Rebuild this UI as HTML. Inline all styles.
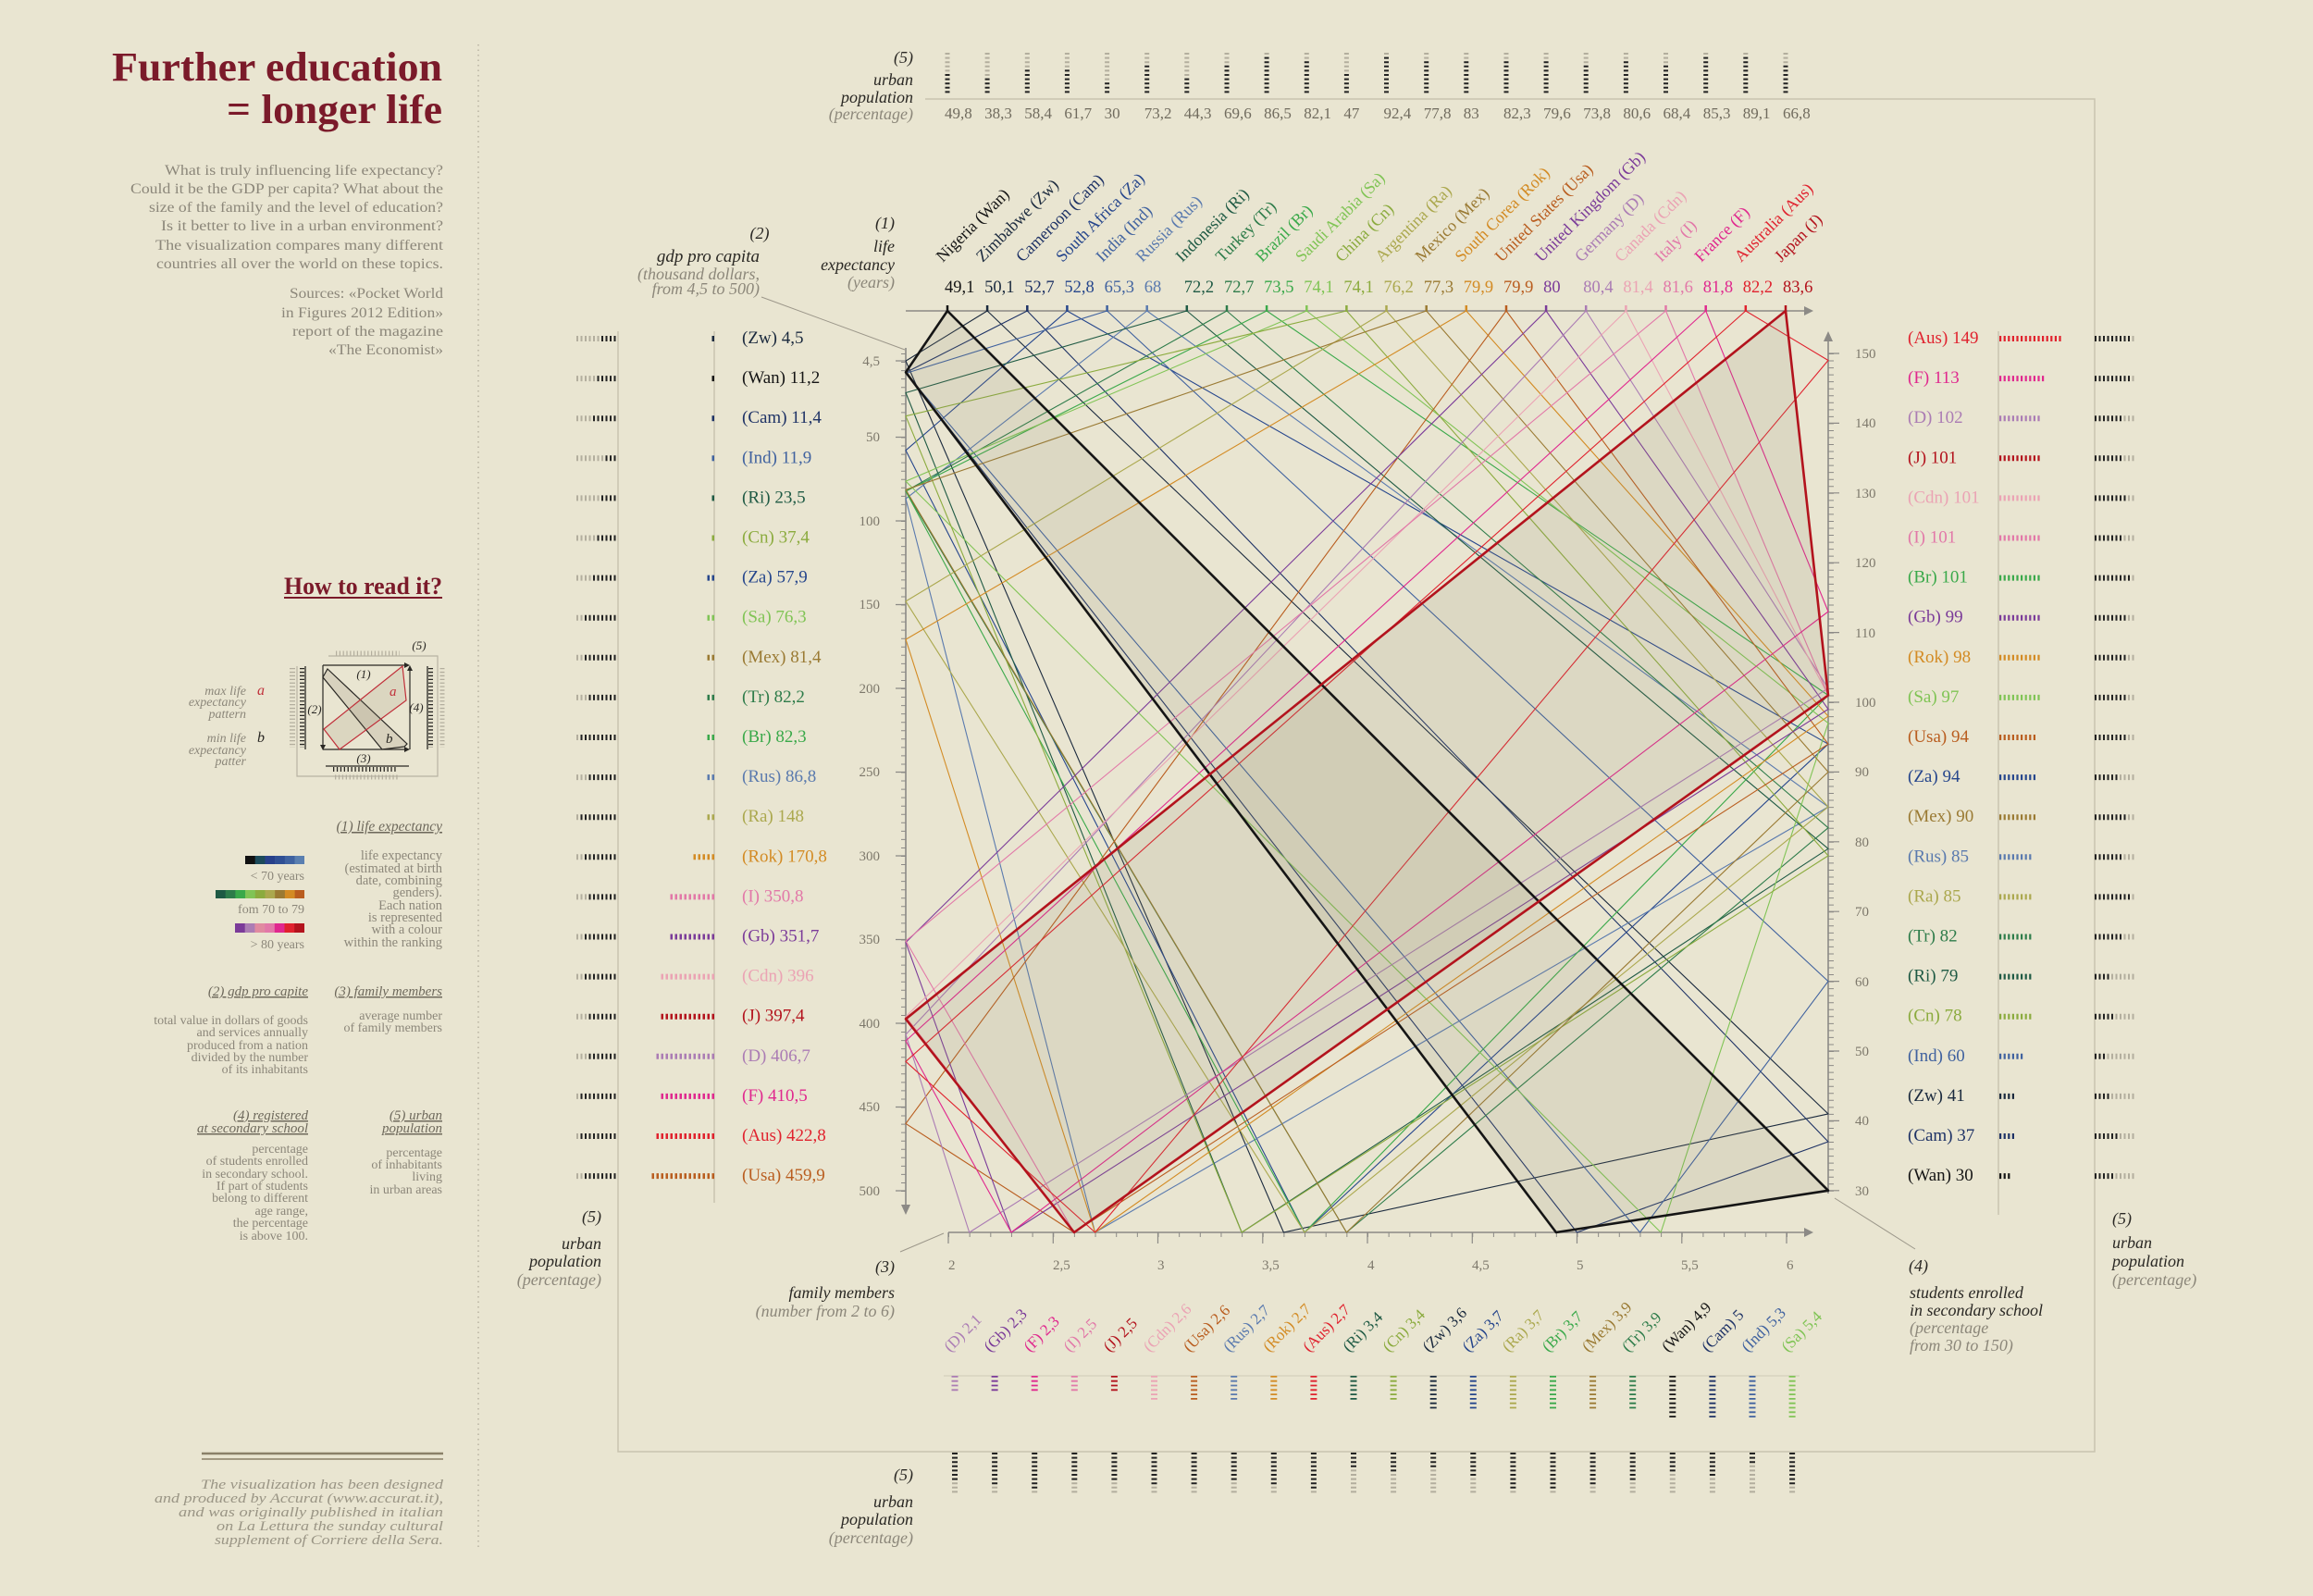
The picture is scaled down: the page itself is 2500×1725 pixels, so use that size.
<!DOCTYPE html>
<html><head><meta charset="utf-8"><style>
html,body{margin:0;padding:0;background:#e9e5d1;}
svg{display:block;}
text{font-family:"Liberation Serif",serif;}
.it{font-style:italic;}
.g{fill:#8c877a;}
.d{fill:#2a2824;}
.ax{fill:#7d786b;font-size:15px;}
.ul{text-decoration:underline;}
</style></head><body>
<svg width="2500" height="1725" viewBox="0 0 2500 1725" xmlns="http://www.w3.org/2000/svg">
<rect x="0" y="0" width="2500" height="1725" fill="#e9e5d1"/>

<!-- ============ LEFT PANEL ============ -->
<line x1="517" y1="48" x2="517" y2="1674" stroke="#b9b4a2" stroke-width="1.5" stroke-dasharray="1.5 4"/>
<text x="121" y="87" font-size="44" font-weight="bold" fill="#7b1a2a" textLength="357" lengthAdjust="spacingAndGlyphs">Further education</text>
<text x="245" y="133" font-size="44" font-weight="bold" fill="#7b1a2a" textLength="233" lengthAdjust="spacingAndGlyphs">= longer life</text>

<g class="g" font-size="16">
<text x="178" y="189" textLength="301" lengthAdjust="spacingAndGlyphs">What is truly influencing life expectancy?</text>
<text x="141" y="209" textLength="338" lengthAdjust="spacingAndGlyphs">Could it be the GDP per capita? What about the</text>
<text x="161" y="229" textLength="318" lengthAdjust="spacingAndGlyphs">size of the family and the level of education?</text>
<text x="174" y="249" textLength="305" lengthAdjust="spacingAndGlyphs">Is it better to live in a urban environment?</text>
<text x="168" y="270" textLength="311" lengthAdjust="spacingAndGlyphs">The visualization compares many different</text>
<text x="169" y="290" textLength="310" lengthAdjust="spacingAndGlyphs">countries all over the world on these topics.</text>
<text x="313" y="322" textLength="166" lengthAdjust="spacingAndGlyphs">Sources: «Pocket World</text>
<text x="304" y="343" textLength="175" lengthAdjust="spacingAndGlyphs">in Figures 2012 Edition»</text>
<text x="316" y="363" textLength="163" lengthAdjust="spacingAndGlyphs">report of the magazine</text>
<text x="355" y="383" textLength="124" lengthAdjust="spacingAndGlyphs">«The Economist»</text>
</g>

<text x="307" y="642" font-size="26" font-weight="bold" fill="#7b1a2a" textLength="171" lengthAdjust="spacingAndGlyphs">How to read it?</text>
<line x1="307" y1="646" x2="478" y2="646" stroke="#7b1a2a" stroke-width="2"/>

<!-- legend diagram -->
<g class="it g" font-size="14" text-anchor="end">
<text x="266" y="751">max life</text>
<text x="266" y="763">expectancy</text>
<text x="266" y="776">pattern</text>
<text x="266" y="802">min life</text>
<text x="266" y="815">expectancy</text>
<text x="266" y="827">patter</text>
</g>
<text x="278" y="751" class="it" font-size="16" fill="#c0303a">a</text>
<text x="278" y="802" class="it" font-size="16" fill="#2a2824">b</text>
<path d="M355,709 H473 V839 H321 V720" fill="none" stroke="#b8b3a3" stroke-width="1.2"/>
<line x1="363" y1="706" x2="432" y2="706" stroke="#b3ae9e" stroke-width="5" stroke-dasharray="1.2 2.6"/>
<line x1="330" y1="720" x2="330" y2="810" stroke="#2a2824" stroke-width="1.3"/>
<line x1="326.5" y1="722" x2="326.5" y2="808" stroke="#2a2824" stroke-width="5" stroke-dasharray="1.3 2.6"/>
<line x1="316" y1="722" x2="316" y2="808" stroke="#b3ae9e" stroke-width="6" stroke-dasharray="1.3 2.6"/>
<line x1="462" y1="720" x2="462" y2="810" stroke="#2a2824" stroke-width="1.3"/>
<line x1="465.5" y1="722" x2="465.5" y2="808" stroke="#2a2824" stroke-width="5" stroke-dasharray="1.3 2.6"/>
<line x1="478" y1="722" x2="478" y2="808" stroke="#b3ae9e" stroke-width="5" stroke-dasharray="1.3 2.6"/>
<line x1="352" y1="828" x2="442" y2="828" stroke="#2a2824" stroke-width="1.3"/>
<line x1="360" y1="831.5" x2="430" y2="831.5" stroke="#2a2824" stroke-width="5" stroke-dasharray="1.3 2.6"/>
<line x1="362" y1="840" x2="432" y2="840" stroke="#b3ae9e" stroke-width="5" stroke-dasharray="1.3 2.6"/>
<g stroke="#2a2824" stroke-width="1.2" fill="none">
<path d="M349,719 H438"/><path d="M349,719 V806"/><path d="M349,810 H438"/><path d="M443,810 V724"/>
</g>
<g fill="#2a2824">
<polygon points="437,716 443,719 437,722"/><polygon points="346,805 349,811 352,805"/>
<polygon points="437,807 443,810 437,813"/><polygon points="440,725 443,719 446,725"/>
</g>
<polygon points="354,723 440,804 437,807 413,810 349,732" fill="#8a8068" fill-opacity="0.18" stroke="#2a2824" stroke-width="1.2"/>
<polygon points="350,788 435,720 439,757 367,810" fill="#8a8068" fill-opacity="0.15" stroke="#c0303a" stroke-width="1.2"/>
<text x="421" y="752" class="it" font-size="15" fill="#c0303a">a</text>
<text x="417" y="803" class="it" font-size="15" fill="#2a2824">b</text>
<g class="it d" font-size="13" text-anchor="middle">
<text x="393" y="733">(1)</text><text x="340" y="771">(2)</text><text x="393" y="824">(3)</text><text x="450" y="769">(4)</text><text x="453" y="702">(5)</text>
</g>

<text x="478" y="898" text-anchor="end" class="it ul" font-size="15.5" fill="#6e695c">(1) life expectancy</text>
<g>
<rect x="265" y="925" width="11" height="9" fill="#111111"/><rect x="275.7" y="925" width="11" height="9" fill="#1c4a5a"/><rect x="286.4" y="925" width="11" height="9" fill="#27408a"/><rect x="297.1" y="925" width="11" height="9" fill="#2f4f94"/><rect x="307.8" y="925" width="11" height="9" fill="#3f62a0"/><rect x="318.5" y="925" width="10.5" height="9" fill="#5a7fb0"/>
<rect x="233" y="962" width="11" height="9" fill="#1f5a44"/><rect x="243.7" y="962" width="11" height="9" fill="#2e7c4a"/><rect x="254.4" y="962" width="11" height="9" fill="#3aa94a"/><rect x="265.1" y="962" width="11" height="9" fill="#80c455"/><rect x="275.8" y="962" width="11" height="9" fill="#8bab3e"/><rect x="286.5" y="962" width="11" height="9" fill="#aba84e"/><rect x="297.2" y="962" width="11" height="9" fill="#9a7a33"/><rect x="307.9" y="962" width="11" height="9" fill="#d38b24"/><rect x="318.6" y="962" width="10.4" height="9" fill="#b95d1f"/>
<rect x="254" y="998" width="11" height="10" fill="#7b3b99"/><rect x="264.7" y="998" width="11" height="10" fill="#ab7cb4"/><rect x="275.4" y="998" width="11" height="10" fill="#e08aa0"/><rect x="286.1" y="998" width="11" height="10" fill="#e278a8"/><rect x="296.8" y="998" width="11" height="10" fill="#e0288e"/><rect x="307.5" y="998" width="11" height="10" fill="#e0222e"/><rect x="318.2" y="998" width="10.8" height="10" fill="#b3131d"/>
</g>
<g class="g" font-size="14" text-anchor="end">
<text x="329" y="951">&lt; 70 years</text>
<text x="329" y="987">fom 70 to 79</text>
<text x="329" y="1025">&gt; 80 years</text>
</g>
<g class="g" font-size="14.5" text-anchor="end">
<text x="478" y="929">life expectancy</text>
<text x="478" y="943">(estimated at birth</text>
<text x="478" y="956">date, combining</text>
<text x="478" y="969">genders).</text>
<text x="478" y="983">Each nation</text>
<text x="478" y="996">is represented</text>
<text x="478" y="1009">with a colour</text>
<text x="478" y="1023">within the ranking</text>
</g>

<g class="it ul" font-size="15" fill="#6e695c" text-anchor="end">
<text x="333" y="1076">(2) gdp pro capite</text>
<text x="478" y="1076">(3) family members</text>
<text x="333" y="1210">(4) registered</text>
<text x="333" y="1224">at secondary school</text>
<text x="478" y="1210">(5) urban</text>
<text x="478" y="1224">population</text>
</g>
<g class="g" font-size="14" text-anchor="end">
<text x="333" y="1107">total value in dollars of goods</text>
<text x="333" y="1120">and services annually</text>
<text x="333" y="1134">produced from a nation</text>
<text x="333" y="1147">divided by the number</text>
<text x="333" y="1160">of its inhabitants</text>
<text x="478" y="1102">average number</text>
<text x="478" y="1115">of family members</text>
<text x="333" y="1246">percentage</text>
<text x="333" y="1259">of students enrolled</text>
<text x="333" y="1273">in secondary school.</text>
<text x="333" y="1286">If part of students</text>
<text x="333" y="1299">belong to different</text>
<text x="333" y="1313">age range,</text>
<text x="333" y="1326">the percentage</text>
<text x="333" y="1340">is above 100.</text>
<text x="478" y="1250">percentage</text>
<text x="478" y="1263">of inhabitants</text>
<text x="478" y="1276">living</text>
<text x="478" y="1290">in urban areas</text>
</g>
<line x1="218" y1="1571" x2="479" y2="1571" stroke="#8a8068" stroke-width="2.5"/>
<line x1="218" y1="1577" x2="479" y2="1577" stroke="#8a8068" stroke-width="1.5"/>
<g class="it" font-size="14.5" fill="#9a9585">
<text x="217" y="1609" textLength="262" lengthAdjust="spacingAndGlyphs">The visualization has been designed</text>
<text x="167" y="1624" textLength="312" lengthAdjust="spacingAndGlyphs">and produced by Accurat (www.accurat.it),</text>
<text x="193" y="1639" textLength="286" lengthAdjust="spacingAndGlyphs">and was originally published in italian</text>
<text x="234" y="1654" textLength="245" lengthAdjust="spacingAndGlyphs">on La Lettura the sunday cultural</text>
<text x="232" y="1669" textLength="247" lengthAdjust="spacingAndGlyphs">supplement of Corriere della Sera.</text>
</g>

<!-- ============ FRAME ============ -->
<g stroke="#c9c4b0" stroke-width="1.5" fill="none">
<path d="M1000,107 H2264 V1569 H668 V358"/>
<path d="M772,358 V1300"/>
<path d="M2160,358 V1313"/>
</g>
<line x1="1020" y1="1487" x2="1945" y2="1487" stroke="#d0cbb8" stroke-width="1"/>
<g stroke="#9c978a" stroke-width="1" fill="none">
<path d="M823,321 L978,378"/><path d="M973,1353 L1020,1333"/><path d="M1983,1295 L2070,1350"/>
</g>

<!-- ============ HEADERS ============ -->
<g class="it d" font-size="18" text-anchor="end">
<text x="987" y="68">(5)</text><text x="987" y="92">urban</text><text x="987" y="111">population</text>
<text x="821" y="258" text-anchor="middle" x2="0">(2)</text>
<text x="821" y="283" font-size="19">gdp pro capita</text>
<text x="967" y="247">(1)</text><text x="967" y="272">life</text><text x="967" y="292">expectancy</text>
<text x="650" y="1321">(5)</text><text x="650" y="1350">urban</text><text x="650" y="1369">population</text>
<text x="967" y="1375">(3)</text><text x="967" y="1403">family members</text>
<text x="987" y="1600">(5)</text><text x="987" y="1629">urban</text><text x="987" y="1648">population</text>
</g>
<g class="it g" font-size="18" text-anchor="end">
<text x="987" y="129">(percentage)</text>
<text x="821" y="302">(thousand dollars,</text>
<text x="821" y="318">from 4,5  to 500)</text>
<text x="967" y="311">(years)</text>
<text x="650" y="1389">(percentage)</text>
<text x="967" y="1423">(number from 2 to 6)</text>
<text x="987" y="1668">(percentage)</text>
</g>
<g class="it d" font-size="18">
<text x="2063" y="1374">(4)</text><text x="2064" y="1403">students enrolled</text><text x="2064" y="1422">in secondary school</text>
<text x="2283" y="1323">(5)</text><text x="2283" y="1349">urban</text><text x="2283" y="1369">population</text>
</g>
<g class="it g" font-size="18">
<text x="2064" y="1441">(percentage</text><text x="2064" y="1460">from 30 to 150)</text>
<text x="2283" y="1389">(percentage)</text>
</g>

<!-- ============ AXES ============ -->
<g stroke="#8c8a86" fill="none">
<line x1="979" y1="336" x2="1952" y2="336" stroke-width="1.6"/>
<line x1="979" y1="376" x2="979" y2="1305" stroke-width="1.6"/>
<line x1="1976" y1="366" x2="1976" y2="1290" stroke-width="1.6"/>
<line x1="1025" y1="1332" x2="1952" y2="1332" stroke-width="1.6"/>
<line x1="976.5" y1="382" x2="976.5" y2="1292" stroke-width="5" stroke-dasharray="1 8.05"/>
<line x1="1979" y1="382" x2="1979" y2="1288" stroke-width="6" stroke-dasharray="1 6.54"/>
<line x1="1025" y1="1334.5" x2="1950" y2="1334.5" stroke-width="5" stroke-dasharray="1 21.65"/>
<path stroke-width="1.2" d="M968,390H979 M968,472.5H979 M968,563H979 M968,653.5H979 M968,744H979 M968,834.5H979 M968,925H979 M968,1015.5H979 M968,1106H979 M968,1196.5H979 M968,1287H979"/>
<path stroke-width="1.2" d="M1976,382H1988 M1976,457.4H1988 M1976,532.8H1988 M1976,608.2H1988 M1976,683.6H1988 M1976,759H1988 M1976,834.4H1988 M1976,909.8H1988 M1976,985.2H1988 M1976,1060.6H1988 M1976,1136H1988 M1976,1211.4H1988 M1976,1286.8H1988"/>
<path stroke-width="1.2" d="M1025,1332V1344 M1138.3,1332V1344 M1251.5,1332V1344 M1364.8,1332V1344 M1478,1332V1344 M1591.3,1332V1344 M1704.5,1332V1344 M1817.8,1332V1344 M1931,1332V1344"/>
</g>
<g fill="#8c8a86">
<polygon points="1950,331 1960,336 1950,341"/>
<polygon points="974,1302 984,1302 979,1313"/>
<polygon points="1971,369 1981,369 1976,358"/>
<polygon points="1950,1327 1960,1332 1950,1337"/>
</g>
<g class="ax" text-anchor="end">
<text x="951" y="395">4,5</text><text x="951" y="477">50</text><text x="951" y="568">100</text><text x="951" y="658">150</text><text x="951" y="749">200</text><text x="951" y="839">250</text><text x="951" y="930">300</text><text x="951" y="1020">350</text><text x="951" y="1111">400</text><text x="951" y="1201">450</text><text x="951" y="1292">500</text>
</g>
<g class="ax">
<text x="2005" y="387">150</text><text x="2005" y="462">140</text><text x="2005" y="538">130</text><text x="2005" y="613">120</text><text x="2005" y="689">110</text><text x="2005" y="764">100</text><text x="2005" y="839">90</text><text x="2005" y="915">80</text><text x="2005" y="990">70</text><text x="2005" y="1066">60</text><text x="2005" y="1141">50</text><text x="2005" y="1216">40</text><text x="2005" y="1292">30</text>
<text x="1025" y="1372">2</text><text x="1138" y="1372">2,5</text><text x="1251" y="1372">3</text><text x="1364" y="1372">3,5</text><text x="1478" y="1372">4</text><text x="1591" y="1372">4,5</text><text x="1704" y="1372">5</text><text x="1817" y="1372">5,5</text><text x="1931" y="1372">6</text>
</g>

<!-- ============ CHART LINES ============ -->
<g fill="none" stroke-width="1.1" stroke-linejoin="round">
<polygon stroke="#1b2a3e" points="1067.1,336 979,390.1 1387.4,1332 1976,1203.9"/>
<polygon stroke="#1f3366" points="1110.3,336 979,402.6 1704.5,1332 1976,1234"/>
<polygon stroke="#26468c" points="1153.4,336 979,486.8 1410,1332 1976,804.2"/>
<polygon stroke="#40629f" points="1196.6,336 979,403.5 1772.5,1332 1976,1060.6"/>
<polygon stroke="#5a7aae" points="1239.7,336 979,539.1 1183.6,1332 1976,872.1"/>
<polygon stroke="#1f5a44" points="1282.8,336 979,424.5 1342.1,1332 1976,917.3"/>
<polygon stroke="#2e7c4a" points="1326,336 979,530.8 1455.4,1332 1976,894.7"/>
<polygon stroke="#3aa94a" points="1369.1,336 979,531 1410,1332 1976,751.5"/>
<polygon stroke="#80c455" points="1412.3,336 979,520.1 1795.1,1332 1976,781.6"/>
<polygon stroke="#8bab3e" points="1455.4,336 979,449.7 1342.1,1332 1976,924.9"/>
<polygon stroke="#aba84e" points="1498.5,336 979,649.9 1410,1332 1976,872.1"/>
<polygon stroke="#9a7a33" points="1541.7,336 979,529.3 1455.4,1332 1976,834.4"/>
<polygon stroke="#d38b24" points="1584.8,336 979,691.1 1183.6,1332 1976,774.1"/>
<polygon stroke="#b95d1f" points="1628,336 979,1214.4 1160.9,1332 1976,804.2"/>
<polygon stroke="#7b3b99" points="1671.1,336 979,1018.6 1093,1332 1976,766.5"/>
<polygon stroke="#ab7cb4" points="1714.2,336 979,1118.1 1047.7,1332 1976,743.9"/>
<polygon stroke="#eba3b4" points="1757.4,336 979,1098.8 1160.9,1332 1976,751.5"/>
<polygon stroke="#e278a8" points="1800.5,336 979,1017 1160.9,1332 1976,751.5"/>
<polygon stroke="#e0288e" points="1843.7,336 979,1125 1093,1332 1976,661"/>
<polygon stroke="#e0222e" points="1886.8,336 979,1147.3 1183.6,1332 1976,389.5"/>
</g>
<polygon points="1024,336 979,402.3 1681.9,1332 1976,1286.8" fill="#8a8068" fill-opacity="0.13"/>
<polygon points="1930,336 979,1101.3 1161,1332 1976,751.5" fill="#8a8068" fill-opacity="0.13"/>
<polygon points="1024,336 979,402.3 1681.9,1332 1976,1286.8" fill="none" stroke="#151515" stroke-width="2.6" stroke-linejoin="round"/>
<polygon points="1930,336 979,1101.3 1161,1332 1976,751.5" fill="none" stroke="#b3131d" stroke-width="2.6" stroke-linejoin="round"/>

<!-- top axis country ticks -->
<g stroke-width="2.5">
<line x1="1024" y1="330" x2="1024" y2="337" stroke="#151515"/>
<line x1="1067.1" y1="330" x2="1067.1" y2="337" stroke="#1b2a3e"/>
<line x1="1110.3" y1="330" x2="1110.3" y2="337" stroke="#1f3366"/>
<line x1="1153.4" y1="330" x2="1153.4" y2="337" stroke="#26468c"/>
<line x1="1196.6" y1="330" x2="1196.6" y2="337" stroke="#40629f"/>
<line x1="1239.7" y1="330" x2="1239.7" y2="337" stroke="#5a7aae"/>
<line x1="1282.8" y1="330" x2="1282.8" y2="337" stroke="#1f5a44"/>
<line x1="1326" y1="330" x2="1326" y2="337" stroke="#2e7c4a"/>
<line x1="1369.1" y1="330" x2="1369.1" y2="337" stroke="#3aa94a"/>
<line x1="1412.3" y1="330" x2="1412.3" y2="337" stroke="#80c455"/>
<line x1="1455.4" y1="330" x2="1455.4" y2="337" stroke="#8bab3e"/>
<line x1="1498.5" y1="330" x2="1498.5" y2="337" stroke="#aba84e"/>
<line x1="1541.7" y1="330" x2="1541.7" y2="337" stroke="#9a7a33"/>
<line x1="1584.8" y1="330" x2="1584.8" y2="337" stroke="#d38b24"/>
<line x1="1628" y1="330" x2="1628" y2="337" stroke="#b95d1f"/>
<line x1="1671.1" y1="330" x2="1671.1" y2="337" stroke="#7b3b99"/>
<line x1="1714.2" y1="330" x2="1714.2" y2="337" stroke="#ab7cb4"/>
<line x1="1757.4" y1="330" x2="1757.4" y2="337" stroke="#eba3b4"/>
<line x1="1800.5" y1="330" x2="1800.5" y2="337" stroke="#e278a8"/>
<line x1="1843.7" y1="330" x2="1843.7" y2="337" stroke="#e0288e"/>
<line x1="1886.8" y1="330" x2="1886.8" y2="337" stroke="#e0222e"/>
<line x1="1930" y1="330" x2="1930" y2="337" stroke="#b3131d"/>
</g>

<!-- ============ TOP LABELS ============ -->
<g font-size="18">
<text transform="translate(1019,284) rotate(-45)" fill="#151515">Nigeria (Wan)</text>
<text transform="translate(1062.1,284) rotate(-45)" fill="#1b2a3e">Zimbabwe (Zw)</text>
<text transform="translate(1105.3,284) rotate(-45)" fill="#1f3366">Cameroon (Cam)</text>
<text transform="translate(1148.4,284) rotate(-45)" fill="#26468c">South Africa (Za)</text>
<text transform="translate(1191.6,284) rotate(-45)" fill="#40629f">India (Ind)</text>
<text transform="translate(1234.7,284) rotate(-45)" fill="#5a7aae">Russia (Rus)</text>
<text transform="translate(1277.8,284) rotate(-45)" fill="#1f5a44">Indonesia (Ri)</text>
<text transform="translate(1321,284) rotate(-45)" fill="#2e7c4a">Turkey (Tr)</text>
<text transform="translate(1364.1,284) rotate(-45)" fill="#3aa94a">Brazil (Br)</text>
<text transform="translate(1407.3,284) rotate(-45)" fill="#80c455">Saudi Arabia (Sa)</text>
<text transform="translate(1450.4,284) rotate(-45)" fill="#8bab3e">China (Cn)</text>
<text transform="translate(1493.5,284) rotate(-45)" fill="#aba84e">Argentina (Ra)</text>
<text transform="translate(1536.7,284) rotate(-45)" fill="#9a7a33">Mexico (Mex)</text>
<text transform="translate(1579.8,284) rotate(-45)" fill="#d38b24">South Corea (Rok)</text>
<text transform="translate(1623,284) rotate(-45)" fill="#b95d1f">United States (Usa)</text>
<text transform="translate(1666.1,284) rotate(-45)" fill="#7b3b99">United Kingdom (Gb)</text>
<text transform="translate(1709.2,284) rotate(-45)" fill="#ab7cb4">Germany (D)</text>
<text transform="translate(1752.4,284) rotate(-45)" fill="#eba3b4">Canada (Cdn)</text>
<text transform="translate(1795.5,284) rotate(-45)" fill="#e278a8">Italy (I)</text>
<text transform="translate(1838.7,284) rotate(-45)" fill="#e0288e">France (F)</text>
<text transform="translate(1881.8,284) rotate(-45)" fill="#e0222e">Australia (Aus)</text>
<text transform="translate(1925,284) rotate(-45)" fill="#b3131d">Japan (J)</text>
</g>
<g font-size="18.5">
<text x="1021" y="316" fill="#151515">49,1</text>
<text x="1064.1" y="316" fill="#1b2a3e">50,1</text>
<text x="1107.3" y="316" fill="#1f3366">52,7</text>
<text x="1150.4" y="316" fill="#26468c">52,8</text>
<text x="1193.6" y="316" fill="#40629f">65,3</text>
<text x="1236.7" y="316" fill="#5a7aae">68</text>
<text x="1279.8" y="316" fill="#1f5a44">72,2</text>
<text x="1323" y="316" fill="#2e7c4a">72,7</text>
<text x="1366.1" y="316" fill="#3aa94a">73,5</text>
<text x="1409.3" y="316" fill="#80c455">74,1</text>
<text x="1452.4" y="316" fill="#8bab3e">74,1</text>
<text x="1495.5" y="316" fill="#aba84e">76,2</text>
<text x="1538.7" y="316" fill="#9a7a33">77,3</text>
<text x="1581.8" y="316" fill="#d38b24">79,9</text>
<text x="1625" y="316" fill="#b95d1f">79,9</text>
<text x="1668.1" y="316" fill="#7b3b99">80</text>
<text x="1711.2" y="316" fill="#ab7cb4">80,4</text>
<text x="1754.4" y="316" fill="#eba3b4">81,4</text>
<text x="1797.5" y="316" fill="#e278a8">81,6</text>
<text x="1840.7" y="316" fill="#e0288e">81,8</text>
<text x="1883.8" y="316" fill="#e0222e">82,2</text>
<text x="1927" y="316" fill="#b3131d">83,6</text>
</g>
<g font-size="17" fill="#706b5e">
<text x="1021" y="128">49,8</text><text x="1064.1" y="128">38,3</text><text x="1107.3" y="128">58,4</text><text x="1150.4" y="128">61,7</text><text x="1193.6" y="128">30</text><text x="1236.7" y="128">73,2</text><text x="1279.8" y="128">44,3</text><text x="1323" y="128">69,6</text><text x="1366.1" y="128">86,5</text><text x="1409.3" y="128">82,1</text><text x="1452.4" y="128">47</text><text x="1495.5" y="128">92,4</text><text x="1538.7" y="128">77,8</text><text x="1581.8" y="128">83</text><text x="1625" y="128">82,3</text><text x="1668.1" y="128">79,6</text><text x="1711.2" y="128">73,8</text><text x="1754.4" y="128">80,6</text><text x="1797.5" y="128">68,4</text><text x="1840.7" y="128">85,3</text><text x="1883.8" y="128">89,1</text><text x="1927" y="128">66,8</text>
</g>
<!-- top urban bars -->
<g stroke-width="5" stroke-dasharray="2 2.6">
<g stroke="#b3ae9e">
<line x1="1024" y1="57" x2="1024" y2="80"/><line x1="1067.1" y1="57" x2="1067.1" y2="84.6"/><line x1="1110.3" y1="57" x2="1110.3" y2="75.4"/><line x1="1153.4" y1="57" x2="1153.4" y2="75.4"/><line x1="1196.6" y1="57" x2="1196.6" y2="89.2"/><line x1="1239.7" y1="57" x2="1239.7" y2="70.8"/><line x1="1282.8" y1="57" x2="1282.8" y2="84.6"/><line x1="1326" y1="57" x2="1326" y2="70.8"/><line x1="1369.1" y1="57" x2="1369.1" y2="61.6"/><line x1="1412.3" y1="57" x2="1412.3" y2="66.2"/><line x1="1455.4" y1="57" x2="1455.4" y2="80"/><line x1="1498.5" y1="57" x2="1498.5" y2="61.6"/><line x1="1541.7" y1="57" x2="1541.7" y2="66.2"/><line x1="1584.8" y1="57" x2="1584.8" y2="66.2"/><line x1="1628" y1="57" x2="1628" y2="66.2"/><line x1="1671.1" y1="57" x2="1671.1" y2="66.2"/><line x1="1714.2" y1="57" x2="1714.2" y2="70.8"/><line x1="1757.4" y1="57" x2="1757.4" y2="66.2"/><line x1="1800.5" y1="57" x2="1800.5" y2="70.8"/><line x1="1843.7" y1="57" x2="1843.7" y2="61.6"/><line x1="1886.8" y1="57" x2="1886.8" y2="61.6"/><line x1="1930" y1="57" x2="1930" y2="70.8"/>
</g>
<g stroke="#222">
<line x1="1024" y1="80" x2="1024" y2="103"/><line x1="1067.1" y1="84.6" x2="1067.1" y2="103"/><line x1="1110.3" y1="75.4" x2="1110.3" y2="103"/><line x1="1153.4" y1="75.4" x2="1153.4" y2="103"/><line x1="1196.6" y1="89.2" x2="1196.6" y2="103"/><line x1="1239.7" y1="70.8" x2="1239.7" y2="103"/><line x1="1282.8" y1="84.6" x2="1282.8" y2="103"/><line x1="1326" y1="70.8" x2="1326" y2="103"/><line x1="1369.1" y1="61.6" x2="1369.1" y2="103"/><line x1="1412.3" y1="66.2" x2="1412.3" y2="103"/><line x1="1455.4" y1="80" x2="1455.4" y2="103"/><line x1="1498.5" y1="61.6" x2="1498.5" y2="103"/><line x1="1541.7" y1="66.2" x2="1541.7" y2="103"/><line x1="1584.8" y1="66.2" x2="1584.8" y2="103"/><line x1="1628" y1="66.2" x2="1628" y2="103"/><line x1="1671.1" y1="66.2" x2="1671.1" y2="103"/><line x1="1714.2" y1="70.8" x2="1714.2" y2="103"/><line x1="1757.4" y1="66.2" x2="1757.4" y2="103"/><line x1="1800.5" y1="70.8" x2="1800.5" y2="103"/><line x1="1843.7" y1="61.6" x2="1843.7" y2="103"/><line x1="1886.8" y1="61.6" x2="1886.8" y2="103"/><line x1="1930" y1="70.8" x2="1930" y2="103"/>
</g>
</g>

<!-- ============ LEFT ROWS ============ -->
<g font-size="19">
<text x="802" y="371" fill="#1b2a3e">(Zw) 4,5</text>
<text x="802" y="414.1" fill="#151515">(Wan) 11,2</text>
<text x="802" y="457.2" fill="#1f3366">(Cam) 11,4</text>
<text x="802" y="500.3" fill="#40629f">(Ind) 11,9</text>
<text x="802" y="543.4" fill="#1f5a44">(Ri) 23,5</text>
<text x="802" y="586.5" fill="#8bab3e">(Cn) 37,4</text>
<text x="802" y="629.6" fill="#26468c">(Za) 57,9</text>
<text x="802" y="672.7" fill="#80c455">(Sa) 76,3</text>
<text x="802" y="715.8" fill="#9a7a33">(Mex) 81,4</text>
<text x="802" y="758.9" fill="#2e7c4a">(Tr) 82,2</text>
<text x="802" y="802" fill="#3aa94a">(Br) 82,3</text>
<text x="802" y="845.1" fill="#5a7aae">(Rus) 86,8</text>
<text x="802" y="888.2" fill="#aba84e">(Ra) 148</text>
<text x="802" y="931.3" fill="#d38b24">(Rok) 170,8</text>
<text x="802" y="974.4" fill="#e278a8">(I) 350,8</text>
<text x="802" y="1017.5" fill="#7b3b99">(Gb) 351,7</text>
<text x="802" y="1060.6" fill="#eba3b4">(Cdn) 396</text>
<text x="802" y="1103.7" fill="#b3131d">(J) 397,4</text>
<text x="802" y="1146.8" fill="#ab7cb4">(D) 406,7</text>
<text x="802" y="1189.9" fill="#e0288e">(F) 410,5</text>
<text x="802" y="1233" fill="#e0222e">(Aus) 422,8</text>
<text x="802" y="1276.1" fill="#b95d1f">(Usa) 459,9</text>
</g>
<!-- gdp bars -->
<g stroke-width="6" stroke-dasharray="2.5 2.5">
<line x1="769.5" y1="366" x2="772" y2="366" stroke="#1b2a3e"/>
<line x1="769.5" y1="409.1" x2="772" y2="409.1" stroke="#151515"/>
<line x1="769.5" y1="452.2" x2="772" y2="452.2" stroke="#1f3366"/>
<line x1="769.5" y1="495.3" x2="772" y2="495.3" stroke="#40629f"/>
<line x1="769.5" y1="538.4" x2="772" y2="538.4" stroke="#1f5a44"/>
<line x1="769.5" y1="581.5" x2="772" y2="581.5" stroke="#8bab3e"/>
<line x1="764.5" y1="624.6" x2="772" y2="624.6" stroke="#26468c"/>
<line x1="764.5" y1="667.7" x2="772" y2="667.7" stroke="#80c455"/>
<line x1="764.5" y1="710.8" x2="772" y2="710.8" stroke="#9a7a33"/>
<line x1="764.5" y1="753.9" x2="772" y2="753.9" stroke="#2e7c4a"/>
<line x1="764.5" y1="797" x2="772" y2="797" stroke="#3aa94a"/>
<line x1="764.5" y1="840.1" x2="772" y2="840.1" stroke="#5a7aae"/>
<line x1="764.5" y1="883.2" x2="772" y2="883.2" stroke="#aba84e"/>
<line x1="749.5" y1="926.3" x2="772" y2="926.3" stroke="#d38b24"/>
<line x1="724.5" y1="969.4" x2="772" y2="969.4" stroke="#e278a8"/>
<line x1="724.5" y1="1012.5" x2="772" y2="1012.5" stroke="#7b3b99"/>
<line x1="714.5" y1="1055.6" x2="772" y2="1055.6" stroke="#eba3b4"/>
<line x1="714.5" y1="1098.7" x2="772" y2="1098.7" stroke="#b3131d"/>
<line x1="709.5" y1="1141.8" x2="772" y2="1141.8" stroke="#ab7cb4"/>
<line x1="714.5" y1="1184.9" x2="772" y2="1184.9" stroke="#e0288e"/>
<line x1="709.5" y1="1228" x2="772" y2="1228" stroke="#e0222e"/>
<line x1="704.5" y1="1271.1" x2="772" y2="1271.1" stroke="#b95d1f"/>
</g>
<!-- left urban bars -->
<g stroke-width="6" stroke-dasharray="2 2.5">
<g stroke="#b3ae9e">
<line x1="623" y1="366" x2="650" y2="366"/><line x1="623" y1="409.1" x2="645.5" y2="409.1"/><line x1="623" y1="452.2" x2="641" y2="452.2"/><line x1="623" y1="495.3" x2="654.5" y2="495.3"/><line x1="623" y1="538.4" x2="650" y2="538.4"/><line x1="623" y1="581.5" x2="645.5" y2="581.5"/><line x1="623" y1="624.6" x2="641" y2="624.6"/><line x1="623" y1="667.7" x2="632" y2="667.7"/><line x1="623" y1="710.8" x2="632" y2="710.8"/><line x1="623" y1="753.9" x2="636.5" y2="753.9"/><line x1="623" y1="797" x2="627.5" y2="797"/><line x1="623" y1="840.1" x2="636.5" y2="840.1"/><line x1="623" y1="883.2" x2="627.5" y2="883.2"/><line x1="623" y1="926.3" x2="632" y2="926.3"/><line x1="623" y1="969.4" x2="636.5" y2="969.4"/><line x1="623" y1="1012.5" x2="632" y2="1012.5"/><line x1="623" y1="1055.6" x2="632" y2="1055.6"/><line x1="623" y1="1098.7" x2="636.5" y2="1098.7"/><line x1="623" y1="1141.8" x2="636.5" y2="1141.8"/><line x1="623" y1="1184.9" x2="627.5" y2="1184.9"/><line x1="623" y1="1228" x2="627.5" y2="1228"/><line x1="623" y1="1271.1" x2="632" y2="1271.1"/>
</g>
<g stroke="#222">
<line x1="650" y1="366" x2="668" y2="366"/><line x1="645.5" y1="409.1" x2="668" y2="409.1"/><line x1="641" y1="452.2" x2="668" y2="452.2"/><line x1="654.5" y1="495.3" x2="668" y2="495.3"/><line x1="650" y1="538.4" x2="668" y2="538.4"/><line x1="645.5" y1="581.5" x2="668" y2="581.5"/><line x1="641" y1="624.6" x2="668" y2="624.6"/><line x1="632" y1="667.7" x2="668" y2="667.7"/><line x1="632" y1="710.8" x2="668" y2="710.8"/><line x1="636.5" y1="753.9" x2="668" y2="753.9"/><line x1="627.5" y1="797" x2="668" y2="797"/><line x1="636.5" y1="840.1" x2="668" y2="840.1"/><line x1="627.5" y1="883.2" x2="668" y2="883.2"/><line x1="632" y1="926.3" x2="668" y2="926.3"/><line x1="636.5" y1="969.4" x2="668" y2="969.4"/><line x1="632" y1="1012.5" x2="668" y2="1012.5"/><line x1="632" y1="1055.6" x2="668" y2="1055.6"/><line x1="636.5" y1="1098.7" x2="668" y2="1098.7"/><line x1="636.5" y1="1141.8" x2="668" y2="1141.8"/><line x1="627.5" y1="1184.9" x2="668" y2="1184.9"/><line x1="627.5" y1="1228" x2="668" y2="1228"/><line x1="632" y1="1271.1" x2="668" y2="1271.1"/>
</g>
</g>

<!-- ============ RIGHT ROWS ============ -->
<g font-size="19">
<text x="2062" y="371" fill="#e0222e">(Aus) 149</text>
<text x="2062" y="414.1" fill="#e0288e">(F) 113</text>
<text x="2062" y="457.2" fill="#ab7cb4">(D) 102</text>
<text x="2062" y="500.3" fill="#b3131d">(J) 101</text>
<text x="2062" y="543.4" fill="#eba3b4">(Cdn) 101</text>
<text x="2062" y="586.5" fill="#e278a8">(I) 101</text>
<text x="2062" y="629.6" fill="#3aa94a">(Br) 101</text>
<text x="2062" y="672.7" fill="#7b3b99">(Gb) 99</text>
<text x="2062" y="715.8" fill="#d38b24">(Rok) 98</text>
<text x="2062" y="758.9" fill="#80c455">(Sa) 97</text>
<text x="2062" y="802" fill="#b95d1f">(Usa) 94</text>
<text x="2062" y="845.1" fill="#26468c">(Za) 94</text>
<text x="2062" y="888.2" fill="#9a7a33">(Mex) 90</text>
<text x="2062" y="931.3" fill="#5a7aae">(Rus) 85</text>
<text x="2062" y="974.4" fill="#aba84e">(Ra) 85</text>
<text x="2062" y="1017.5" fill="#2e7c4a">(Tr) 82</text>
<text x="2062" y="1060.6" fill="#1f5a44">(Ri) 79</text>
<text x="2062" y="1103.7" fill="#8bab3e">(Cn) 78</text>
<text x="2062" y="1146.8" fill="#40629f">(Ind) 60</text>
<text x="2062" y="1189.9" fill="#1b2a3e">(Zw) 41</text>
<text x="2062" y="1233" fill="#1f3366">(Cam) 37</text>
<text x="2062" y="1276.1" fill="#151515">(Wan) 30</text>
</g>
<g stroke-width="6" stroke-dasharray="2.2 2.4">
<line x1="2161" y1="366" x2="2230" y2="366" stroke="#e0222e"/>
<line x1="2161" y1="409.1" x2="2211.6" y2="409.1" stroke="#e0288e"/>
<line x1="2161" y1="452.2" x2="2207" y2="452.2" stroke="#ab7cb4"/>
<line x1="2161" y1="495.3" x2="2207" y2="495.3" stroke="#b3131d"/>
<line x1="2161" y1="538.4" x2="2207" y2="538.4" stroke="#eba3b4"/>
<line x1="2161" y1="581.5" x2="2207" y2="581.5" stroke="#e278a8"/>
<line x1="2161" y1="624.6" x2="2207" y2="624.6" stroke="#3aa94a"/>
<line x1="2161" y1="667.7" x2="2207" y2="667.7" stroke="#7b3b99"/>
<line x1="2161" y1="710.8" x2="2207" y2="710.8" stroke="#d38b24"/>
<line x1="2161" y1="753.9" x2="2207" y2="753.9" stroke="#80c455"/>
<line x1="2161" y1="797" x2="2202.4" y2="797" stroke="#b95d1f"/>
<line x1="2161" y1="840.1" x2="2202.4" y2="840.1" stroke="#26468c"/>
<line x1="2161" y1="883.2" x2="2202.4" y2="883.2" stroke="#9a7a33"/>
<line x1="2161" y1="926.3" x2="2197.8" y2="926.3" stroke="#5a7aae"/>
<line x1="2161" y1="969.4" x2="2197.8" y2="969.4" stroke="#aba84e"/>
<line x1="2161" y1="1012.5" x2="2197.8" y2="1012.5" stroke="#2e7c4a"/>
<line x1="2161" y1="1055.6" x2="2197.8" y2="1055.6" stroke="#1f5a44"/>
<line x1="2161" y1="1098.7" x2="2197.8" y2="1098.7" stroke="#8bab3e"/>
<line x1="2161" y1="1141.8" x2="2188.6" y2="1141.8" stroke="#40629f"/>
<line x1="2161" y1="1184.9" x2="2179.4" y2="1184.9" stroke="#1b2a3e"/>
<line x1="2161" y1="1228" x2="2179.4" y2="1228" stroke="#1f3366"/>
<line x1="2161" y1="1271.1" x2="2174.8" y2="1271.1" stroke="#151515"/>
</g>
<g stroke-width="6" stroke-dasharray="2 2.5">
<g stroke="#222">
<line x1="2264" y1="366" x2="2304.5" y2="366"/><line x1="2264" y1="409.1" x2="2304.5" y2="409.1"/><line x1="2264" y1="452.2" x2="2295.5" y2="452.2"/><line x1="2264" y1="495.3" x2="2295.5" y2="495.3"/><line x1="2264" y1="538.4" x2="2300" y2="538.4"/><line x1="2264" y1="581.5" x2="2295.5" y2="581.5"/><line x1="2264" y1="624.6" x2="2304.5" y2="624.6"/><line x1="2264" y1="667.7" x2="2300" y2="667.7"/><line x1="2264" y1="710.8" x2="2300" y2="710.8"/><line x1="2264" y1="753.9" x2="2300" y2="753.9"/><line x1="2264" y1="797" x2="2300" y2="797"/><line x1="2264" y1="840.1" x2="2291" y2="840.1"/><line x1="2264" y1="883.2" x2="2300" y2="883.2"/><line x1="2264" y1="926.3" x2="2295.5" y2="926.3"/><line x1="2264" y1="969.4" x2="2304.5" y2="969.4"/><line x1="2264" y1="1012.5" x2="2295.5" y2="1012.5"/><line x1="2264" y1="1055.6" x2="2282" y2="1055.6"/><line x1="2264" y1="1098.7" x2="2286.5" y2="1098.7"/><line x1="2264" y1="1141.8" x2="2277.5" y2="1141.8"/><line x1="2264" y1="1184.9" x2="2282" y2="1184.9"/><line x1="2264" y1="1228" x2="2291" y2="1228"/><line x1="2264" y1="1271.1" x2="2286.5" y2="1271.1"/>
</g>
<g stroke="#b3ae9e">
<line x1="2304.5" y1="366" x2="2309" y2="366"/><line x1="2304.5" y1="409.1" x2="2309" y2="409.1"/><line x1="2295.5" y1="452.2" x2="2309" y2="452.2"/><line x1="2295.5" y1="495.3" x2="2309" y2="495.3"/><line x1="2300" y1="538.4" x2="2309" y2="538.4"/><line x1="2295.5" y1="581.5" x2="2309" y2="581.5"/><line x1="2304.5" y1="624.6" x2="2309" y2="624.6"/><line x1="2300" y1="667.7" x2="2309" y2="667.7"/><line x1="2300" y1="710.8" x2="2309" y2="710.8"/><line x1="2300" y1="753.9" x2="2309" y2="753.9"/><line x1="2300" y1="797" x2="2309" y2="797"/><line x1="2291" y1="840.1" x2="2309" y2="840.1"/><line x1="2300" y1="883.2" x2="2309" y2="883.2"/><line x1="2295.5" y1="926.3" x2="2309" y2="926.3"/><line x1="2304.5" y1="969.4" x2="2309" y2="969.4"/><line x1="2295.5" y1="1012.5" x2="2309" y2="1012.5"/><line x1="2282" y1="1055.6" x2="2309" y2="1055.6"/><line x1="2286.5" y1="1098.7" x2="2309" y2="1098.7"/><line x1="2277.5" y1="1141.8" x2="2309" y2="1141.8"/><line x1="2282" y1="1184.9" x2="2309" y2="1184.9"/><line x1="2291" y1="1228" x2="2309" y2="1228"/><line x1="2286.5" y1="1271.1" x2="2309" y2="1271.1"/>
</g>
</g>

<!-- ============ BOTTOM ============ -->
<g font-size="17">
<text transform="translate(1027,1462) rotate(-45)" fill="#ab7cb4">(D) 2,1</text>
<text transform="translate(1070.1,1462) rotate(-45)" fill="#7b3b99">(Gb) 2,3</text>
<text transform="translate(1113.2,1462) rotate(-45)" fill="#e0288e">(F) 2,3</text>
<text transform="translate(1156.3,1462) rotate(-45)" fill="#e278a8">(I) 2,5</text>
<text transform="translate(1199.4,1462) rotate(-45)" fill="#b3131d">(J) 2,5</text>
<text transform="translate(1242.5,1462) rotate(-45)" fill="#eba3b4">(Cdn) 2,6</text>
<text transform="translate(1285.6,1462) rotate(-45)" fill="#b95d1f">(Usa) 2,6</text>
<text transform="translate(1328.7,1462) rotate(-45)" fill="#5a7aae">(Rus) 2,7</text>
<text transform="translate(1371.8,1462) rotate(-45)" fill="#d38b24">(Rok) 2,7</text>
<text transform="translate(1414.9,1462) rotate(-45)" fill="#e0222e">(Aus) 2,7</text>
<text transform="translate(1458,1462) rotate(-45)" fill="#1f5a44">(Ri) 3,4</text>
<text transform="translate(1501.1,1462) rotate(-45)" fill="#8bab3e">(Cn) 3,4</text>
<text transform="translate(1544.2,1462) rotate(-45)" fill="#1b2a3e">(Zw) 3,6</text>
<text transform="translate(1587.3,1462) rotate(-45)" fill="#26468c">(Za) 3,7</text>
<text transform="translate(1630.4,1462) rotate(-45)" fill="#aba84e">(Ra) 3,7</text>
<text transform="translate(1673.5,1462) rotate(-45)" fill="#3aa94a">(Br) 3,7</text>
<text transform="translate(1716.6,1462) rotate(-45)" fill="#9a7a33">(Mex) 3,9</text>
<text transform="translate(1759.7,1462) rotate(-45)" fill="#2e7c4a">(Tr) 3,9</text>
<text transform="translate(1802.8,1462) rotate(-45)" fill="#151515">(Wan) 4,9</text>
<text transform="translate(1845.9,1462) rotate(-45)" fill="#1f3366">(Cam) 5</text>
<text transform="translate(1889,1462) rotate(-45)" fill="#40629f">(Ind) 5,3</text>
<text transform="translate(1932.1,1462) rotate(-45)" fill="#80c455">(Sa) 5,4</text>
</g>
<g stroke-width="7" stroke-dasharray="1.8 3">
<line x1="1032" y1="1487" x2="1032" y2="1506.2" stroke="#ab7cb4"/>
<line x1="1075.1" y1="1487" x2="1075.1" y2="1506.2" stroke="#7b3b99"/>
<line x1="1118.2" y1="1487" x2="1118.2" y2="1506.2" stroke="#e0288e"/>
<line x1="1161.3" y1="1487" x2="1161.3" y2="1506.2" stroke="#e278a8"/>
<line x1="1204.4" y1="1487" x2="1204.4" y2="1506.2" stroke="#b3131d"/>
<line x1="1247.5" y1="1487" x2="1247.5" y2="1515.8" stroke="#eba3b4"/>
<line x1="1290.6" y1="1487" x2="1290.6" y2="1515.8" stroke="#b95d1f"/>
<line x1="1333.7" y1="1487" x2="1333.7" y2="1515.8" stroke="#5a7aae"/>
<line x1="1376.8" y1="1487" x2="1376.8" y2="1515.8" stroke="#d38b24"/>
<line x1="1419.9" y1="1487" x2="1419.9" y2="1515.8" stroke="#e0222e"/>
<line x1="1463" y1="1487" x2="1463" y2="1515.8" stroke="#1f5a44"/>
<line x1="1506.1" y1="1487" x2="1506.1" y2="1515.8" stroke="#8bab3e"/>
<line x1="1549.2" y1="1487" x2="1549.2" y2="1525.4" stroke="#1b2a3e"/>
<line x1="1592.3" y1="1487" x2="1592.3" y2="1525.4" stroke="#26468c"/>
<line x1="1635.4" y1="1487" x2="1635.4" y2="1525.4" stroke="#aba84e"/>
<line x1="1678.5" y1="1487" x2="1678.5" y2="1525.4" stroke="#3aa94a"/>
<line x1="1721.6" y1="1487" x2="1721.6" y2="1525.4" stroke="#9a7a33"/>
<line x1="1764.7" y1="1487" x2="1764.7" y2="1525.4" stroke="#2e7c4a"/>
<line x1="1807.8" y1="1487" x2="1807.8" y2="1535" stroke="#151515"/>
<line x1="1850.9" y1="1487" x2="1850.9" y2="1535" stroke="#1f3366"/>
<line x1="1894" y1="1487" x2="1894" y2="1535" stroke="#40629f"/>
<line x1="1937.1" y1="1487" x2="1937.1" y2="1535" stroke="#80c455"/>
</g>
<g stroke-width="6" stroke-dasharray="2 2.6">
<g stroke="#222">
<line x1="1032" y1="1570" x2="1032" y2="1602.2"/><line x1="1075.1" y1="1570" x2="1075.1" y2="1606.8"/><line x1="1118.2" y1="1570" x2="1118.2" y2="1611.4"/><line x1="1161.3" y1="1570" x2="1161.3" y2="1602.2"/><line x1="1204.4" y1="1570" x2="1204.4" y2="1602.2"/><line x1="1247.5" y1="1570" x2="1247.5" y2="1606.8"/><line x1="1290.6" y1="1570" x2="1290.6" y2="1606.8"/><line x1="1333.7" y1="1570" x2="1333.7" y2="1602.2"/><line x1="1376.8" y1="1570" x2="1376.8" y2="1606.8"/><line x1="1419.9" y1="1570" x2="1419.9" y2="1611.4"/><line x1="1463" y1="1570" x2="1463" y2="1588.4"/><line x1="1506.1" y1="1570" x2="1506.1" y2="1593"/><line x1="1549.2" y1="1570" x2="1549.2" y2="1588.4"/><line x1="1592.3" y1="1570" x2="1592.3" y2="1597.6"/><line x1="1635.4" y1="1570" x2="1635.4" y2="1611.4"/><line x1="1678.5" y1="1570" x2="1678.5" y2="1611.4"/><line x1="1721.6" y1="1570" x2="1721.6" y2="1606.8"/><line x1="1764.7" y1="1570" x2="1764.7" y2="1602.2"/><line x1="1807.8" y1="1570" x2="1807.8" y2="1593"/><line x1="1850.9" y1="1570" x2="1850.9" y2="1597.6"/><line x1="1894" y1="1570" x2="1894" y2="1583.8"/><line x1="1937.1" y1="1570" x2="1937.1" y2="1606.8"/>
</g>
<g stroke="#b3ae9e">
<line x1="1032" y1="1602.2" x2="1032" y2="1616"/><line x1="1075.1" y1="1606.8" x2="1075.1" y2="1616"/><line x1="1118.2" y1="1611.4" x2="1118.2" y2="1616"/><line x1="1161.3" y1="1602.2" x2="1161.3" y2="1616"/><line x1="1204.4" y1="1602.2" x2="1204.4" y2="1616"/><line x1="1247.5" y1="1606.8" x2="1247.5" y2="1616"/><line x1="1290.6" y1="1606.8" x2="1290.6" y2="1616"/><line x1="1333.7" y1="1602.2" x2="1333.7" y2="1616"/><line x1="1376.8" y1="1606.8" x2="1376.8" y2="1616"/><line x1="1419.9" y1="1611.4" x2="1419.9" y2="1616"/><line x1="1463" y1="1588.4" x2="1463" y2="1616"/><line x1="1506.1" y1="1593" x2="1506.1" y2="1616"/><line x1="1549.2" y1="1588.4" x2="1549.2" y2="1616"/><line x1="1592.3" y1="1597.6" x2="1592.3" y2="1616"/><line x1="1635.4" y1="1611.4" x2="1635.4" y2="1616"/><line x1="1678.5" y1="1611.4" x2="1678.5" y2="1616"/><line x1="1721.6" y1="1606.8" x2="1721.6" y2="1616"/><line x1="1764.7" y1="1602.2" x2="1764.7" y2="1616"/><line x1="1807.8" y1="1593" x2="1807.8" y2="1616"/><line x1="1850.9" y1="1597.6" x2="1850.9" y2="1616"/><line x1="1894" y1="1583.8" x2="1894" y2="1616"/><line x1="1937.1" y1="1606.8" x2="1937.1" y2="1616"/>
</g>
</g>
</svg>
</body></html>
